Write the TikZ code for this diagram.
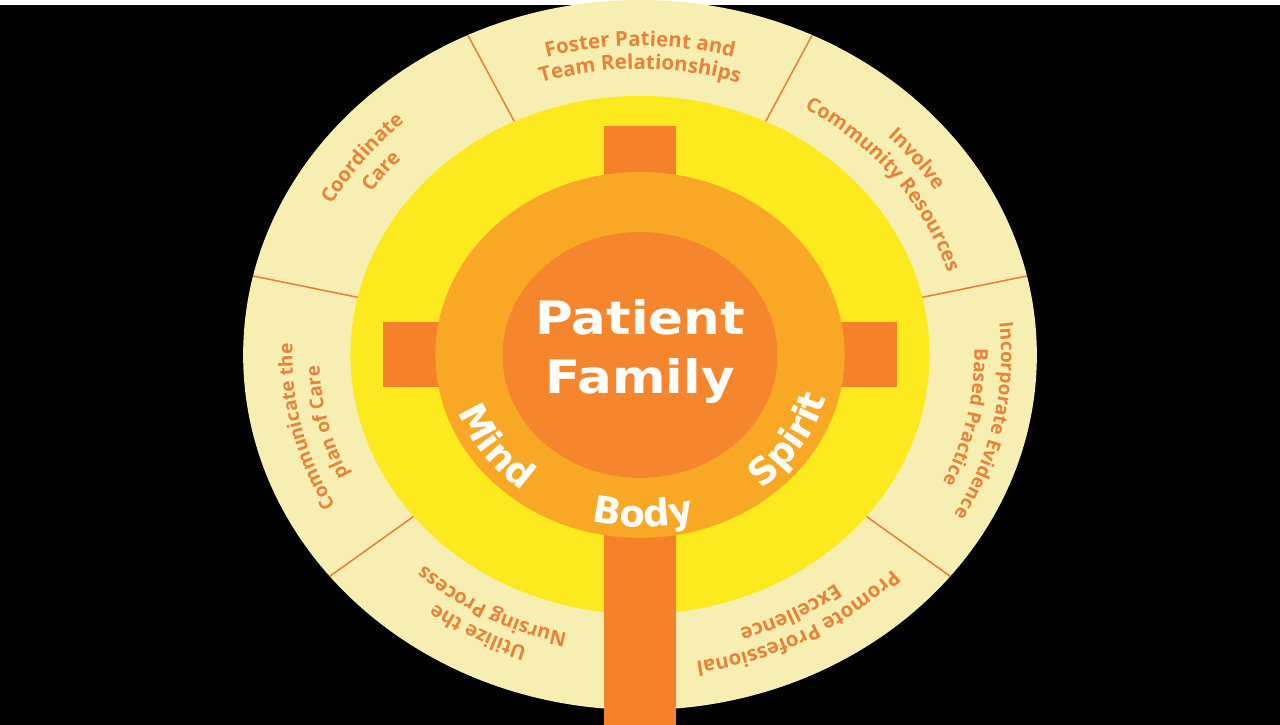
\documentclass[tikz,border=0pt]{standalone}
\usepackage{fontspec}
\setmainfont{Open Sans}
\newfontfamily\corefont{DejaVu Sans}
\usetikzlibrary{decorations.text}
\definecolor{paleband}{RGB}{247,239,178}
\definecolor{sunyellow}{RGB}{252,234,30}
\definecolor{ringorange}{RGB}{249,168,37}
\definecolor{coreorange}{RGB}{246,134,45}
\definecolor{crossorange}{RGB}{245,130,42}
\definecolor{labelorange}{RGB}{232,131,58}
\tikzstyle{divider}=[labelorange,line width=1.6pt]
\tikzstyle{crossbar}=[fill=crossorange]
\tikzstyle{corelabel}=[text=white,font=\corefont\fontsize{46}{59}\selectfont\bfseries,align=center,inner sep=0pt,xscale=1.118,transform shape]
\newcommand\labfont[1]{\fontsize{#1}{#1}\selectfont\bfseries\color{labelorange}}
\newcommand\wordfont{\corefont\fontsize{37}{37}\selectfont\bfseries\color{white}}

\begin{document}
\begin{tikzpicture}[x=1.118pt,y=1pt]
    \fill[black] (-572.5,-370) rectangle (572.5,350);
    % outer band and its seven parts
    \fill[paleband] (0,0) circle[radius=355];
    \foreach \a in {-38.57,12.86,64.29,115.71,167.14,218.57}
        \draw[divider] (\a:259) -- (\a:355);
    \fill[sunyellow] (0,0) circle[radius=259];
    % cross
    \fill[crossbar] (-32.6,-370) rectangle (32.6,229);
    \fill[crossbar] (-230,-32.5) rectangle (230,32.5);
    \fill[ringorange] (0,0) circle[radius=183];
    \fill[coreorange] (0,0) circle[radius=123];
    \node[corelabel] (core) at (0,3) {Patient\\Family};
    \foreach \a/\w [evaluate=\a as \s using \a-45, evaluate=\a as \e using \a+45] in {214.5/Mind, 271/Body, 328.5/Spirit}
        \path[decorate,decoration={text along path,text/.expanded={|\noexpand\wordfont|\w},text align=center}]
            (\s:172) arc[start angle=\s,end angle=\e,radius=172];
    \foreach \a/\r/\g/\sz/\one/\two [evaluate=\a as \s using \a+40, evaluate=\a as \e using \a-40, evaluate=\r as \q using \r-\g] in {90/309/23/20.5/Foster Patient and/Team Relationships, 37/311/24/20/Involve/Community Resources, -11.5/323/24/19/Incorporate Evidence/Based Practice, -61.3/311/23/20.5/Promote Professional/Excellence, 241.3/309/23/20/Utilize the/Nursing Process, 192.86/311/24/19/Communicate the/plan of Care, 143/314/24/20/Coordinate/Care} {
        \path[decorate,decoration={text along path,text/.expanded={|\noexpand\labfont{\sz}|\one},text align=center}]
            (\s:\r) arc[start angle=\s,end angle=\e,radius=\r];
        \path[decorate,decoration={text along path,text/.expanded={|\noexpand\labfont{\sz}|\two},text align=center}]
            (\s:\q) arc[start angle=\s,end angle=\e,radius=\q];
    }
\end{tikzpicture}
\end{document}
